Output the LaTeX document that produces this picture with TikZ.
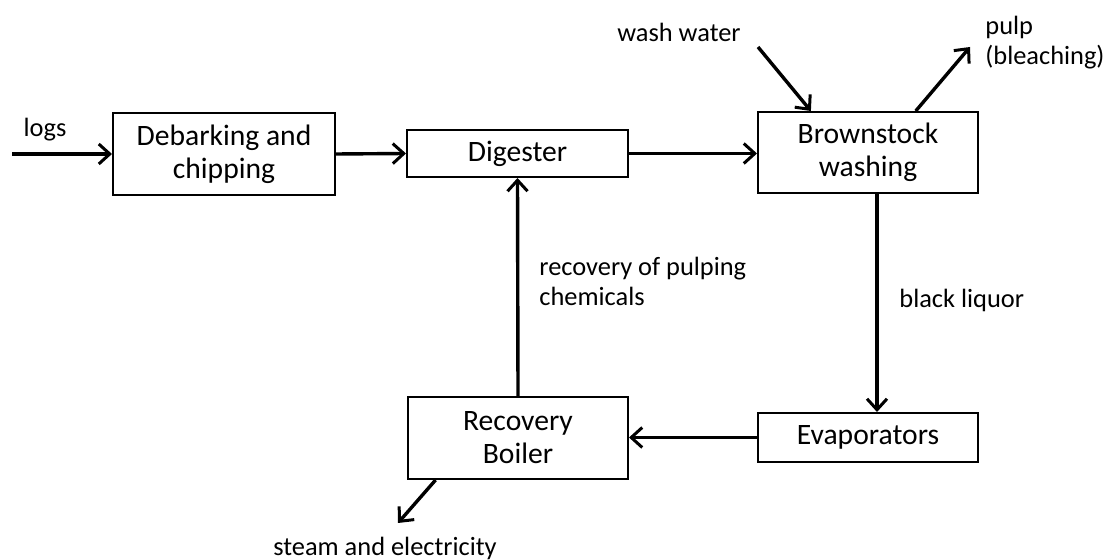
\documentclass[tikz,border=0pt]{standalone}
\usepackage{fontspec}
\setmainfont{Carlito}
\usetikzlibrary{arrows.meta}

\tikzset{
    unit/.style={draw, line width=1pt, font=\fontsize{14.8}{16.5}\selectfont, align=center, inner sep=0pt},
    flow/.style={line width=1.7pt, -{Straight Barb[length=5.5pt, width=10pt, line width=1.5pt]}},
    lbl/.style={font=\fontsize{13.2}{15}\selectfont, inner sep=0pt}
}

\begin{document}
\begin{tikzpicture}[x=0.5pt, y=-0.5pt]
\useasboundingbox (0,0) rectangle (1103,560);
% process units
\node[unit, minimum width=111pt, minimum height=41pt] (debark) at (224,154) {Debarking and\\chipping};
\node[unit, minimum width=110.5pt, minimum height=23.5pt] (digester) at (517.5,153.5) {Digester};
\node[unit, minimum width=110pt, minimum height=40.5pt] (washing) at (868,152.5) {Brownstock\\washing};
\node[unit, minimum width=110pt, minimum height=24.5pt] (evap) at (868,437.5) {Evaporators};
\node[unit, minimum width=110pt, minimum height=41pt] (boiler) at (518,438) {Recovery\\Boiler};
% free ends
\coordinate (logsin) at (12,154);
\coordinate (wwin) at (758,47);
\coordinate (pulpout) at (970,47);
\coordinate (steamout) at (398,523);
% streams
\draw[flow] (logsin) -- (debark.west);
\draw[flow] (debark.east) -- (digester.west);
\draw[flow] (digester.east) -- (digester.east -| washing.west);
\draw[flow] (wwin) -- (washing.144);
\draw[flow] (washing.41) -- (pulpout);
\draw[flow] ([xshift=4.5pt]washing.south) -- ([xshift=4.5pt]evap.north);
\draw[flow] (evap.west) -- (evap.west -| boiler.east);
\draw[flow] (boiler.north) -- (digester.south);
\draw[flow] (boiler.207) -- (steamout);
% labels
\node[lbl] (logs) at (45,130) {logs};
\node[lbl] (wash) at (679,32) {wash water};
\node[lbl, anchor=west, align=left] (pulp) at (985,43) {pulp\\(bleaching)};
\node[lbl, anchor=west] (liquor) at (899,300) {black liquor};
\node[lbl, anchor=west, align=left] (chem) at (539,281) {recovery of pulping\\chemicals};
\node[lbl] (steam) at (385,548) {steam and electricity};
\end{tikzpicture}
\end{document}
